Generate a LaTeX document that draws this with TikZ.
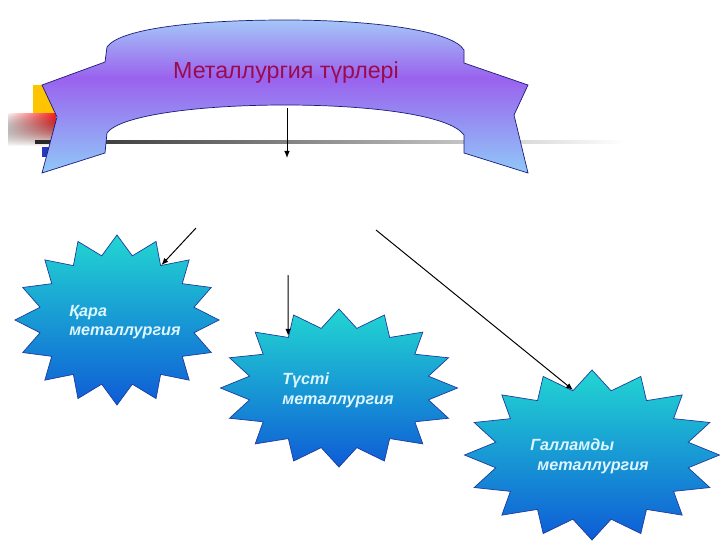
\documentclass[tikz,border=0pt]{standalone}
\usepackage{fontspec}
\setmainfont{Liberation Sans}
\usetikzlibrary{arrows.meta, shapes.geometric, fadings}
\definecolor{ribbontop}{HTML}{A4C6F8}
\definecolor{ribbonviolet}{HTML}{9A62EE}
\definecolor{ribbonlow}{HTML}{90C8F8}
\definecolor{ribbonedge}{HTML}{1C1C7A}
\definecolor{titlered}{HTML}{9B0A4E}
\definecolor{starteal}{HTML}{22D6D2}
\definecolor{starmid}{HTML}{16B0E6}
\definecolor{starblue}{HTML}{0E5CD6}
\definecolor{staredge}{HTML}{1F3C9E}
\definecolor{startext}{HTML}{DDF6FF}
\definecolor{markyellow}{HTML}{FFC400}
\definecolor{markred}{HTML}{FF1E1E}
\definecolor{markblue}{HTML}{2438C0}
\pgfdeclareverticalshading{ribbonshade}{100bp}{color(0bp)=(ribbonlow); color(25bp)=(ribbonlow);
  color(56bp)=(ribbonviolet); color(75bp)=(ribbontop); color(100bp)=(ribbontop)}

\begin{document}
\begin{tikzpicture}[
    x=0.025cm, y=-0.025cm,
    >={Latex[length=5pt, width=4pt]},
    metstar/.style={star, star points=16, star point ratio=1.3, inner sep=0pt,
      minimum size=#1, draw=staredge, line width=0.5pt,
      top color=starteal, middle color=starmid, bottom color=starblue},
    startext/.style={font=\bfseries\itshape\fontsize{11.5}{14}\selectfont, text=startext,
      align=left, anchor=west, inner sep=0pt},
    titletext/.style={font=\fontsize{16.5}{19}\selectfont, text=titlered},
    link/.style={->, line width=0.7pt},
]
\useasboundingbox (0,0) rectangle (720,540);

% Corner marks
\fill[markyellow] (33,85) rectangle (55,118);
\fill[left color=red!5, right color=markred, path fading=south] (8,113) rectangle (56,146);
\fill[markblue] (42,147) rectangle (55,157);
\fill[left color=black!85, right color=white] (35,140) rectangle (625,143.5);

% Ribbon
\path[draw=ribbonedge, line width=0.5pt, shading=ribbonshade]
  (42,85) -- (105,62) -- (107,47)
  .. controls (120,28) and (200,20) .. (285,20)
  .. controls (370,20) and (452,30) .. (464,50)
  -- (464,63) -- (528,85) -- (514,115) -- (528,173) -- (464,153) -- (464,135)
  .. controls (450,115) and (370,105) .. (285,105)
  .. controls (200,105) and (120,115) .. (107,133)
  -- (105,153) -- (42,173) -- (57,117) -- cycle;
\node[titletext] (title) at (286,72) {Металлургия түрлері};

% Stars
\node[metstar=4.25cm, xscale=1.2] (kara) at (117,320) {};
\node[metstar=3.95cm, xscale=1.5] (tusti) at (339,388) {};
\node[metstar=4.25cm, xscale=1.5] (galam) at (592,455) {};
\node[startext] (karatext) at (69,322) {Қара\\металлургия};
\node[startext] (tustitext) at (282,390) {Түсті\\металлургия};
\node[startext] (galamtext) at (530,456) {Галламды\\\hspace*{5pt}металлургия};

% Arrows
\coordinate (ribbonfoot) at (287,108);
\coordinate (ribbonpoint) at (287,158);
\coordinate (karatail) at (196,228);
\coordinate (tustitail) at (288,275);
\coordinate (galamtail) at (376,230);
\draw[link] (ribbonfoot) -- (ribbonpoint);
\draw[link] (karatail) -- (kara.56.25);
\draw[link] (tustitail) -- (tusti.123.75);
\draw[link] (galamtail) -- (galam.101.25);

\end{tikzpicture}
\end{document}
